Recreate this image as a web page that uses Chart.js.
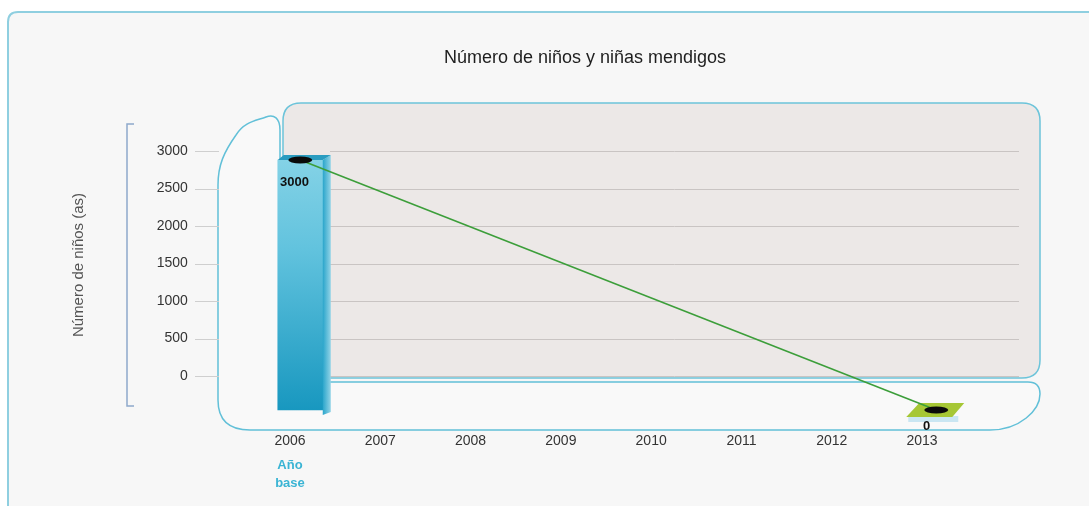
<!DOCTYPE html>
<html>
<head>
<meta charset="utf-8">
<script src="https://cdn.jsdelivr.net/npm/chart.js@4/dist/chart.umd.min.js"></script>
<style>
  html, body { margin: 0; padding: 0; background: #ffffff; }
  #c { display: block; }
</style>
</head>
<body>
<canvas id="c" width="1089" height="506"></canvas>
<script>
// ---------- data ----------
const chartTitle = 'Número de niños y niñas mendigos';
const yAxisTitle = 'Número de niños (as)';
const years = [2006, 2007, 2008, 2009, 2010, 2011, 2012, 2013];
const yearLabels = ['2006', '2007', '2008', '2009', '2010', '2011', '2012', '2013'];
const beggarChildren = [3000, null, null, null, null, null, null, 0];
const valueLabels = ['3000', null, null, null, null, null, null, '0'];
const yTickValues = [0, 500, 1000, 1500, 2000, 2500, 3000];
const baseYearNote = ['Año', 'base'];
const baseYearIndex = 0;

const points = years
  .map((yr, i) => ({ x: yr, y: beggarChildren[i], i }))
  .filter(p => p.y !== null);

const FONT = '"Liberation Sans", Arial, sans-serif';
Chart.defaults.font.family = FONT;

function roundRect(ctx, x, y, w, h, r) {
  ctx.beginPath();
  ctx.moveTo(x + r, y);
  ctx.lineTo(x + w - r, y);
  ctx.quadraticCurveTo(x + w, y, x + w, y + r);
  ctx.lineTo(x + w, y + h - r);
  ctx.quadraticCurveTo(x + w, y + h, x + w - r, y + h);
  ctx.lineTo(x + r, y + h);
  ctx.quadraticCurveTo(x, y + h, x, y + h - r);
  ctx.lineTo(x, y + r);
  ctx.quadraticCurveTo(x, y, x + r, y);
  ctx.closePath();
}

const deco = {
  id: 'deco',
  beforeDraw(chart) {
    const ctx = chart.ctx;
    const ys = chart.scales.y;
    ctx.save();
    ctx.fillStyle = '#ffffff';
    ctx.fillRect(0, 0, chart.width, chart.height);
    // outer card
    roundRect(ctx, 8, 12, 1100, 510, 10);
    ctx.fillStyle = '#f7f7f7';
    ctx.fill();
    ctx.strokeStyle = '#8fcfe0';
    ctx.lineWidth = 2;
    ctx.stroke();
    // title
    ctx.fillStyle = '#1e1e1e';
    ctx.font = '18px ' + FONT;
    ctx.textAlign = 'center';
    ctx.textBaseline = 'middle';
    ctx.fillText(chartTitle, 585, 58);
    // bracket
    ctx.strokeStyle = '#8fa9cc';
    ctx.lineWidth = 1.5;
    ctx.beginPath();
    ctx.moveTo(134, 124); ctx.lineTo(127, 124); ctx.lineTo(127, 406); ctx.lineTo(134, 406);
    ctx.stroke();
    // left shape + floor
    ctx.beginPath();
    ctx.moveTo(280, 170);
    ctx.lineTo(280, 130);
    ctx.bezierCurveTo(280, 118, 274, 114, 266, 117);
    ctx.bezierCurveTo(255, 121, 244, 122, 236, 135);
    ctx.bezierCurveTo(224, 152, 218, 165, 218, 185);
    ctx.lineTo(218, 400);
    ctx.quadraticCurveTo(218, 430, 250, 430);
    ctx.lineTo(990, 430);
    ctx.bezierCurveTo(1020, 430, 1040, 410, 1040, 394);
    ctx.quadraticCurveTo(1040, 382, 1028, 382);
    ctx.lineTo(280, 382);
    ctx.closePath();
    ctx.fillStyle = '#f9f9f9';
    ctx.fill();
    ctx.strokeStyle = '#62c0d8';
    ctx.lineWidth = 1.5;
    ctx.stroke();
    // main panel
    roundRect(ctx, 283, 103, 757, 275, 18);
    ctx.fillStyle = '#ece8e7';
    ctx.fill();
    ctx.strokeStyle = '#6cc4da';
    ctx.lineWidth = 1.5;
    ctx.stroke();
    // grid lines and tick stubs
    ctx.lineWidth = 1;
    yTickValues.forEach(v => {
      const py = Math.round(ys.getPixelForValue(v)) + 0.5;
      ctx.strokeStyle = '#c9c4c3';
      ctx.beginPath(); ctx.moveTo(330, py); ctx.lineTo(1019, py); ctx.stroke();
      ctx.strokeStyle = '#cfcfcf';
      ctx.beginPath(); ctx.moveTo(195, py); ctx.lineTo(219, py); ctx.stroke();
    });
    ctx.restore();
  },
  afterDatasetDraw(chart, args) {
    if (args.index !== 0) return;
    const ctx = chart.ctx;
    const meta = chart.getDatasetMeta(0);
    ctx.save();
    meta.data.forEach((el, k) => {
      const p = el.getProps(['x', 'y', 'base', 'width'], true);
      const l = p.x - p.width / 2, r = p.x + p.width / 2;
      if (Math.abs(p.base - p.y) > 1) {
        // side face
        const g = ctx.createLinearGradient(r, 0, r + 9, 0);
        g.addColorStop(0, '#2aa5cb');
        g.addColorStop(1, '#9fd9ea');
        ctx.fillStyle = g;
        ctx.beginPath();
        ctx.moveTo(r, p.y); ctx.lineTo(r + 8, p.y - 5); ctx.lineTo(r + 8, p.base + 2); ctx.lineTo(r, p.base + 5);
        ctx.closePath(); ctx.fill();
        // top face
        ctx.fillStyle = '#2a9cc0';
        ctx.beginPath();
        ctx.moveTo(l, p.y); ctx.lineTo(l + 6, p.y - 5); ctx.lineTo(r + 8, p.y - 5); ctx.lineTo(r, p.y);
        ctx.closePath(); ctx.fill();
      } else {
        // zero-height bar: flat top face
        ctx.fillStyle = 'rgba(190,225,240,0.8)';
        ctx.fillRect(p.x - 28, p.y + 6, 50, 6);
        ctx.fillStyle = '#a6c735';
        ctx.beginPath();
        ctx.moveTo(p.x - 17, p.y - 7); ctx.lineTo(p.x + 28, p.y - 7);
        ctx.lineTo(p.x + 16, p.y + 7); ctx.lineTo(p.x - 30, p.y + 7);
        ctx.closePath(); ctx.fill();
      }
    });
    ctx.restore();
  },
  afterDatasetsDraw(chart) {
    const ctx = chart.ctx;
    const xs = chart.scales.x;
    const meta = chart.getDatasetMeta(1);
    ctx.save();
    meta.data.forEach((pt, k) => {
      ctx.fillStyle = '#0a0a0a';
      ctx.beginPath();
      ctx.ellipse(pt.x, pt.y, 12, 3.5, 0, 0, Math.PI * 2);
      ctx.fill();
      const idx = points[k].i;
      ctx.fillStyle = '#111';
      ctx.font = 'bold 13px ' + FONT;
      ctx.textAlign = 'center';
      ctx.textBaseline = 'middle';
      const dy = points[k].y > 0 ? 22 : 16;
      ctx.fillText(valueLabels[idx], xs.getPixelForValue(idx) + 4.5, pt.y + dy);
    });
    // base year note
    ctx.fillStyle = '#3ab4d4';
    ctx.font = 'bold 13px ' + FONT;
    ctx.textAlign = 'center';
    ctx.textBaseline = 'middle';
    const bx = xs.getPixelForValue(baseYearIndex);
    baseYearNote.forEach((t, j) => ctx.fillText(t, bx, 465 + j * 18));
    ctx.restore();
  }
};

new Chart(document.getElementById('c'), {
  type: 'bar',
  data: {
    labels: yearLabels,
    datasets: [
      {
        label: 'barras',
        data: points.map(p => ({ x: p.x, y: p.y })),
        xAxisID: 'x2',
        yAxisID: 'y2',
        order: 1,
        barThickness: 45,
        borderWidth: 0,
        backgroundColor: (c) => {
          const ca = c.chart.chartArea;
          if (!ca) return '#3fb2d4';
          if (c.raw && c.raw.y === 0) return 'rgba(0,0,0,0)';
          const g = c.chart.ctx.createLinearGradient(0, 160, 0, 412);
          g.addColorStop(0, '#84d2e6');
          g.addColorStop(0.35, '#62c3de');
          g.addColorStop(1, '#1797bf');
          return g;
        }
      },
      {
        type: 'line',
        label: 'línea',
        data: points.map(p => ({ x: p.x, y: p.y })),
        xAxisID: 'x2',
        yAxisID: 'y2',
        order: 0,
        borderColor: '#3c9e3a',
        borderWidth: 1.6,
        pointRadius: 0,
        fill: false,
        tension: 0,
        spanGaps: true
      }
    ]
  },
  options: {
    responsive: false,
    animation: false,
    events: [],
    layout: { padding: { left: 67, right: 121.85, top: 100, bottom: 0 } },
    plugins: { legend: { display: false }, title: { display: false }, tooltip: { enabled: false } },
    scales: {
      x: {
        type: 'category',
        offset: true,
        grid: { display: false, drawTicks: false },
        border: { display: false },
        ticks: { color: '#333', font: { size: 14 }, padding: 3, maxRotation: 0, autoSkip: false },
        afterFit: s => { s.height = 76; }
      },
      x2: {
        type: 'linear',
        axis: 'x',
        display: false,
        offset: false,
        min: 2005.39,
        max: 2013.34
      },
      y: {
        type: 'linear',
        position: 'left',
        min: -720,
        max: 3680,
        grid: { display: false, drawTicks: false },
        border: { display: false },
        afterBuildTicks: s => { s.ticks = yTickValues.map(v => ({ value: v })); },
        ticks: { color: '#333', font: { size: 14 }, padding: 57, callback: v => String(v) },
        title: { display: true, text: yAxisTitle, color: '#555', font: { size: 15 }, padding: { top: 3, bottom: 0 } },
        afterFit: s => { s.width = 177.85; }
      },
      y2: {
        type: 'linear',
        axis: 'y',
        display: false,
        min: -240,
        max: 3720
      }
    }
  },
  plugins: [deco]
});
</script>
</body>
</html>
